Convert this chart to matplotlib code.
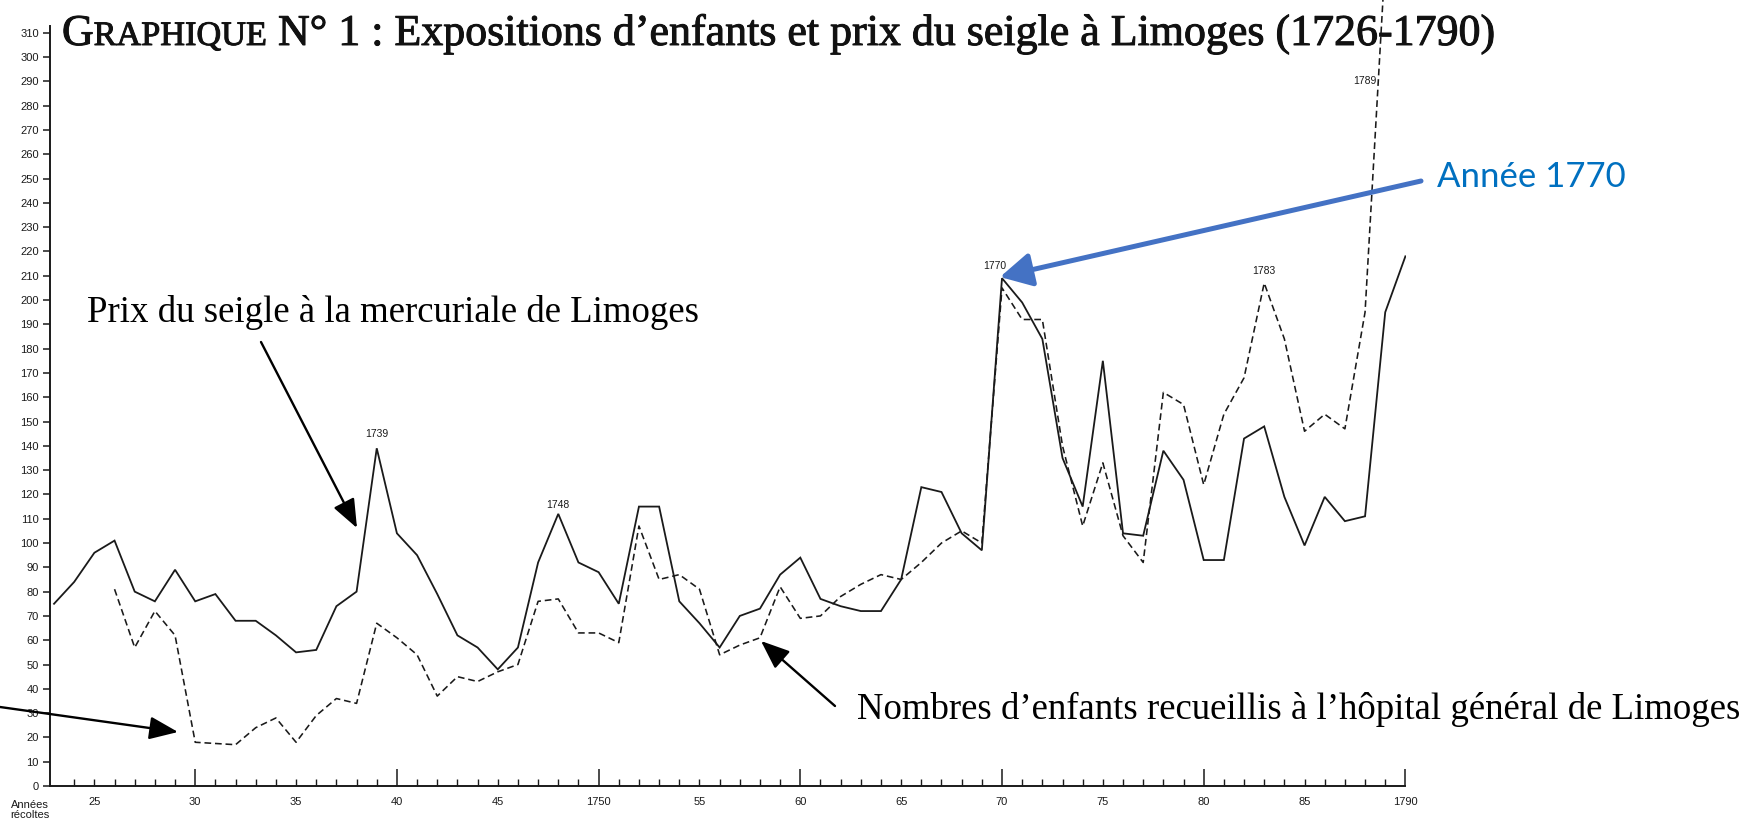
import matplotlib
matplotlib.use("Agg")
import matplotlib.pyplot as plt
import matplotlib.patheffects as pe
from matplotlib.patches import FancyArrowPatch
from matplotlib.ticker import FixedLocator, FuncFormatter

# ---------------- data ----------------
years_prix = list(range(1723, 1791))
prix = [75, 84, 96, 101, 80, 76, 89, 76, 79, 68,
        68, 62, 55, 56, 74, 80, 139, 104, 95, 79,
        62, 57, 48, 57, 92, 112, 92, 88, 75, 115,
        115, 76, 67, 57, 70, 73, 87, 94, 77, 74,
        72, 72, 85, 123, 121, 104, 97, 209, 199, 184,
        135, 115, 175, 104, 103, 138, 126, 93, 93, 143,
        148, 119, 99, 119, 109, 111, 195, 218]

years_enf = list(range(1726, 1790))
enfants = [81, 57, 72, 62, 18, 17.5, 17, 24, 28, 18,
           29, 36, 34, 67, 61, 54, 37, 45, 43, 47,
           50, 76, 77, 63, 63, 59, 107, 85, 87, 81,
           54, 58, 61, 82, 69, 70, 78, 83, 87, 85,
           92, 100, 105, 100, 205, 192, 192, 140, 107, 133,
           103, 92, 162, 157, 124, 153, 168, 207, 184, 146,
           153, 147, 195, 340]

x_label_years = [1725, 1730, 1735, 1740, 1745, 1750, 1755, 1760,
                 1765, 1770, 1775, 1780, 1785, 1790]
x_label_texts = ["25", "30", "35", "40", "45", "1750", "55", "60",
                 "65", "70", "75", "80", "85", "1790"]
y_ticks = list(range(0, 311, 10))

# peak labels: (text, year, value, dx px, dy px)
peak_labels = [("1739", 1739, 139, 0, 9),
               ("1748", 1748, 112, 0, 4),
               ("1770", 1770, 209, -7, 7),
               ("1783", 1783, 207, 0, 7)]

title_main = " N° 1 : Expositions d’enfants et prix du seigle à Limoges (1726-1790)"
label_prix = "Prix du seigle à la mercuriale de Limoges"
label_enf = "Nombres d’enfants recueillis à l’hôpital général de Limoges"
label_annee = "Année 1770"

# ---------------- figure ----------------
W, H = 1757, 824
fig = plt.figure(figsize=(W / 100, H / 100), dpi=100)
fig.patch.set_facecolor("white")


def fp(x, y):
    """full-image pixel (from top-left) -> figure fraction"""
    return (x / W, 1 - y / H)


ax_left, ax_right, ax_bottom = 50, 1406, 786
ax = fig.add_axes([ax_left / W, (H - ax_bottom) / H,
                   (ax_right - ax_left) / W, ax_bottom / H])
ax.set_xlim(1722.8, 1790.03)
ax.set_ylim(0, 323.5)

ink = "#1a1a1a"
ax.plot(years_prix, prix, color=ink, lw=1.3, solid_joinstyle="miter")
ax.plot(years_enf, enfants, color=ink, lw=1.15, linestyle=(0, (4.2, 2.4)))

for s in ["top", "right"]:
    ax.spines[s].set_visible(False)
ax.spines["left"].set_bounds(0, 313)
ax.spines["bottom"].set_bounds(1722.8, 1790)
for s in ["left", "bottom"]:
    ax.spines[s].set_linewidth(1.4)
    ax.spines[s].set_color(ink)

ax.set_yticks(y_ticks)
ax.set_yticklabels([str(v) for v in y_ticks])
ax.tick_params(axis="y", direction="out", length=5, width=1.1, pad=3,
               labelsize=8, colors=ink)
for t in ax.get_yticklabels():
    t.set_family("Liberation Sans")

decades = [y for y in range(1730, 1791, 10)]
ax.xaxis.set_major_locator(FixedLocator(decades))
ax.xaxis.set_minor_locator(FixedLocator(list(range(1724, 1791))))
lab_map = dict(zip(x_label_years, x_label_texts))
ax.xaxis.set_major_formatter(FuncFormatter(lambda v, p: lab_map.get(int(round(v)), "")))
ax.xaxis.set_minor_formatter(FuncFormatter(lambda v, p: lab_map.get(int(round(v)), "")))
ax.tick_params(axis="x", which="major", direction="in", length=12, width=1.1,
               pad=8, labelsize=8, colors=ink)
ax.tick_params(axis="x", which="minor", direction="in", length=5, width=1.0,
               pad=8, labelsize=8, colors=ink)
for t in ax.get_xticklabels(which="both"):
    t.set_family("Liberation Sans")

# peak labels
for txt, yr, val, dx, dy in peak_labels:
    ax.annotate(txt, (yr, val), xytext=(dx * 0.72, dy * 0.72),
                textcoords="offset points", ha="center", va="bottom",
                fontsize=7.5, family="Liberation Sans", color=ink)
ax.text(1788.0, 290, "1789", ha="center", va="center", fontsize=7.5,
        family="Liberation Sans", color=ink)

fig.text(*fp(30, 810), "Années\nrécoltes", ha="center", va="center",
         fontsize=8, family="Liberation Sans", color=ink, linespacing=1.0)

# ---------------- title (small caps simulated) ----------------
renderer = fig.canvas.get_renderer()
heavy = [pe.withStroke(linewidth=0.7, foreground="#111111")]


def draw_title(S):
    pieces = [("G", S), ("RAPHIQUE", 0.78 * S), (title_main, S)]
    x = 62
    arts = []
    for s, sz in pieces:
        t = fig.text(*fp(x, 45), s, fontsize=sz, family="Liberation Serif",
                     va="baseline", ha="left", color="#111111",
                     path_effects=heavy)
        bb = t.get_window_extent(renderer)
        x += bb.width
        arts.append(t)
    return arts, x - 62


arts, w = draw_title(24)
for a in arts:
    a.remove()
arts, w = draw_title(24 * 1435 / w)

# ---------------- annotation texts ----------------
fig.text(*fp(87, 312), label_prix, fontsize=26.5, family="Liberation Serif",
         ha="left", va="center", color="black")
fig.text(*fp(857, 709), label_enf, fontsize=26.5, family="Liberation Serif",
         ha="left", va="center", color="black")
fig.text(*fp(1437, 177), label_annee, fontsize=25, family="Lato",
         ha="left", va="center", color="#0070C0")

# ---------------- arrows ----------------
def arrow(p0, p1, color, lw, hl, hw, ms):
    a = FancyArrowPatch(fp(*p0), fp(*p1), transform=fig.transFigure,
                        arrowstyle=f"-|>,head_length={hl},head_width={hw}",
                        mutation_scale=ms, color=color, lw=lw,
                        shrinkA=0, shrinkB=0)
    fig.add_artist(a)


arrow((261, 342), (357, 528), "black", 1.7, 0.8, 0.32, 22)
arrow((0, 707), (178, 732), "black", 1.7, 0.8, 0.32, 22)
arrow((835, 706), (761, 641), "black", 1.7, 0.8, 0.32, 22)
arrow((1421, 181), (1000, 277), "#4472C4", 3.6, 0.6, 0.32, 32)

fig.savefig("out.png", dpi=100, facecolor="white")
